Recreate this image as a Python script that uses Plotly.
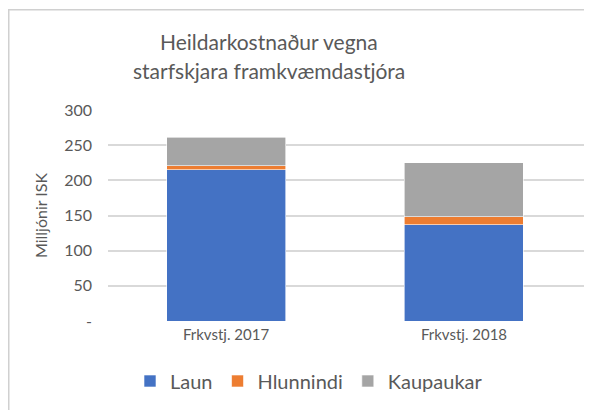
import plotly.graph_objects as go

categories = ["Frkvstj. 2017", "Frkvstj. 2018"]
laun = [215, 137]
hlunnindi = [6, 11]
kaupaukar = [40, 77]
series_names = ["Laun", "Hlunnindi", "Kaupaukar"]
series_colors = ["#4472C4", "#ED7D31", "#A5A5A5"]
ytick_vals = [0, 50, 100, 150, 200, 250, 300]
ytick_text = ["-", "50", "100", "150", "200", "250", "300"]
title_lines = ["Heildarkostnaður vegna", "starfskjara framkvæmdastjóra"]

FONT = "Lato"
TXT = "#595959"

fig = go.Figure()
for name, vals, col in zip(series_names, [laun, hlunnindi, kaupaukar], series_colors):
    fig.add_trace(go.Bar(
        x=categories, y=vals, name=name, width=0.5,
        marker=dict(color=col, line=dict(color="white", width=0.6)),
    ))

W, H = 592, 410
OFF = 8  # page body offset
L, R, T, B = 100, 8, 102, 97
pw = W - L - R
ph = H - T - B

def px_x(sx):
    return (sx - OFF - L) / pw

def px_y(sy):
    return (H - B - (sy - OFF)) / ph

fig.update_layout(
    width=W, height=H,
    margin=dict(l=L, r=R, t=T, b=B, autoexpand=False),
    barmode="stack",
    plot_bgcolor="white", paper_bgcolor="white",
    font=dict(family=FONT, color=TXT, size=15),
    showlegend=True,
    legend=dict(orientation="h", x=px_x(309), xanchor="center",
                y=px_y(381), yanchor="middle",
                font=dict(size=20, color=TXT), traceorder="normal",
                itemwidth=30),
    xaxis=dict(range=[-0.496, 1.538], showgrid=False, showline=False,
               ticks="", tickfont=dict(size=15, color=TXT), ticklabelstandoff=3),
    yaxis=dict(range=[0, 300], tickvals=ytick_vals, ticktext=ytick_text,
               showgrid=True, gridcolor="#D9D9D9", gridwidth=1.5,
               zeroline=False, showline=False, ticks="",
               tickfont=dict(size=16, color=TXT), ticklabelstandoff=15,
               title=dict(text="Milljónir ISK", font=dict(size=16, color=TXT),
                          standoff=12)),
    shapes=[dict(type="rect", xref="paper", yref="paper",
                 x0=px_x(8.75), x1=1.2, y0=px_y(9.75), y1=-1,
                 line=dict(color="#D0D0D0", width=1.5), fillcolor="rgba(0,0,0,0)",
                 layer="below")],
    annotations=[
        dict(text=title_lines[0], xref="paper", yref="paper", x=px_x(269), y=px_y(41),
             xanchor="center", yanchor="middle", showarrow=False,
             font=dict(size=21, color=TXT)),
        dict(text=title_lines[1], xref="paper", yref="paper", x=px_x(269), y=px_y(71),
             xanchor="center", yanchor="middle", showarrow=False,
             font=dict(size=21, color=TXT)),
    ],
)

fig.write_html("out.html")
